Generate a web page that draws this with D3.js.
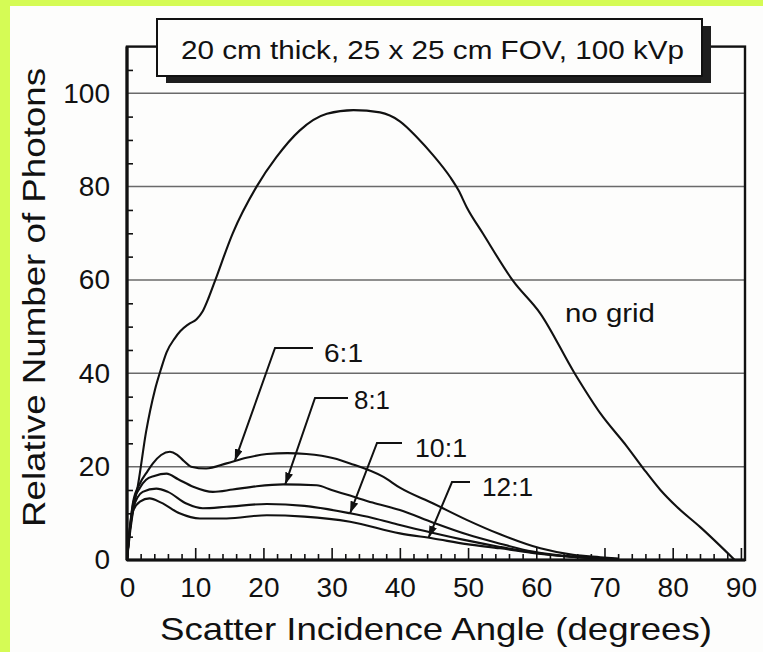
<!DOCTYPE html>
<html>
<head>
<meta charset="utf-8">
<script src="https://cdn.jsdelivr.net/npm/d3@7/dist/d3.min.js"></script>
<style>
  html, body { margin: 0; padding: 0; background: #fdfdfc; }
  svg { display: block; }
  text { font-family: "Liberation Sans", Arial, Helvetica, sans-serif; fill: #111; }
</style>
</head>
<body>
<svg id="chart" width="763" height="652"></svg>
<script>
// Scatter photon angular distributions, with and without anti-scatter grids
const titleText = "20 cm thick, 25 x 25 cm FOV, 100 kVp";
const xAxisTitle = "Scatter Incidence Angle (degrees)";
const yAxisTitle = "Relative Number of Photons";
const xTickLabels = [0, 10, 20, 30, 40, 50, 60, 70, 80, 90];
const yTickLabels = [0, 20, 40, 60, 80, 100];

const noGridAngles = [0, 0.5, 1, 1.6, 2.8, 4.1, 5, 5.8, 7, 7.8, 9, 10.2, 11.1, 12, 12.9, 15.5, 19, 21.9, 25.3, 29.3, 33.2, 37.1, 40, 42.5, 44.9, 47.4, 48.6, 49.8, 52.2, 56.6, 60.6, 65.7, 69.4, 73.3, 75.7, 78.2, 80.6, 84, 89.1];
const noGridValues = [0, 6.5, 11.5, 16, 27.5, 36.5, 41, 44.5, 47.5, 49, 50.5, 51.6, 53.3, 56.3, 59.8, 70, 80, 86.3, 92, 95.6, 96.4, 95.9, 94, 90.6, 86.7, 82, 79.2, 75.6, 69.9, 59.8, 52.8, 39.8, 31.4, 24.3, 19.6, 15, 11.4, 7.1, 0];

const grid6Angles = [0, 0.4, 0.9, 1.9, 3, 3.8, 5, 6.3, 7.3, 8.2, 9.4, 11.6, 14.6, 17.5, 20.5, 23.5, 26.3, 30.3, 32.7, 37.6, 40, 44.9, 49.8, 54.7, 60.6, 65.4, 69.4, 72];
const grid6Values = [0, 6.5, 12.5, 16.4, 19, 20.7, 22.5, 23.2, 22.6, 21.4, 20, 19.6, 20.7, 21.9, 22.7, 22.9, 22.7, 21.8, 20.7, 17.8, 15.5, 12.1, 8.6, 5.5, 2.5, 1.1, 0.6, 0.3];

const grid8Angles = [0, 0.4, 0.9, 1.9, 2.8, 4, 5.8, 7.5, 9.7, 12.6, 15.5, 19, 22.9, 27.8, 30, 32.7, 36, 40, 44.9, 49.8, 54.7, 59.5, 64, 68, 72];
const grid8Values = [0, 6.5, 12, 15.5, 17.2, 18, 18.5, 17.3, 15.7, 14.6, 15.1, 15.8, 16.2, 16, 15, 13.8, 12.3, 10.7, 8, 5.5, 3.5, 1.8, 0.9, 0.5, 0.2];

const grid10Angles = [0, 0.4, 0.9, 2.3, 4.3, 6, 8.7, 11.1, 14.6, 20.5, 26, 32.7, 36, 40, 44.9, 49.8, 54.7, 60, 65, 70, 72];
const grid10Values = [0, 6.3, 11, 14.6, 15.3, 14.6, 12.1, 11.1, 11.4, 12, 11.6, 10, 9, 7.5, 5.8, 4.2, 2.8, 1.5, 0.7, 0.3, 0.2];

const grid12Angles = [0, 0.4, 0.9, 1.9, 3.3, 5, 7.7, 10.7, 14.6, 20.5, 26, 32.7, 40, 44.9, 49.8, 54.7, 60, 65, 70, 72];
const grid12Values = [0, 6, 10.5, 12.5, 13.2, 12.3, 10, 8.9, 8.9, 9.6, 9.3, 8.2, 5.7, 4.6, 3.4, 2.5, 1.4, 0.7, 0.3, 0.2];

const seriesNames = ["no grid", "6:1", "8:1", "10:1", "12:1"];
const seriesAngles = [noGridAngles, grid6Angles, grid8Angles, grid10Angles, grid12Angles];
const seriesValues = [noGridValues, grid6Values, grid8Values, grid10Values, grid12Values];
// angle at which each grid-ratio leader arrow touches its curve
const arrowAngles = [null, 15.8, 23.2, 32.7, 44.2];

const series = seriesNames.map((name, i) => ({
  name,
  points: seriesAngles[i].map((a, j) => [a, seriesValues[i][j]]),
  arrowAt: arrowAngles[i]
}));

const svg = d3.select("#chart");
const W = 763, H = 652;

// page background with the lime margin along the top and left edges
svg.append("rect").attr("width", W).attr("height", H).attr("fill", "#d5fb55");
svg.append("rect").attr("x", 10).attr("y", 6).attr("width", W - 10).attr("height", H - 6).attr("fill", "#fdfdfc");

const x = d3.scaleLinear().domain([0, 90.6]).range([127, 745]);
const y = d3.scaleLinear().domain([0, 110]).range([560, 46.6]);
const [x0, x1] = x.range();
const [y0, y1] = y.range();

// horizontal grid lines
svg.append("g").selectAll("line")
  .data(yTickLabels.filter(v => v > 0))
  .join("line")
  .attr("x1", x0).attr("x2", x1)
  .attr("y1", d => y(d)).attr("y2", d => y(d))
  .attr("stroke", "#6a6a6a").attr("stroke-width", 1.5);

// x axis: major ticks every 10, minor every 2, drawn inward
const xMajor = svg.append("g").attr("transform", `translate(0,${y0})`)
  .call(d3.axisBottom(x).tickValues(xTickLabels).tickSize(-12).tickPadding(17).tickFormat(d3.format("d")));
const xMinor = svg.append("g").attr("transform", `translate(0,${y0})`)
  .call(d3.axisBottom(x).tickValues(d3.range(2, 90, 2).filter(v => v % 10 !== 0)).tickSize(-6).tickFormat(""));

// y axis: labels every 20, minor ticks every 5
const yMajor = svg.append("g").attr("transform", `translate(${x0},0)`)
  .call(d3.axisLeft(y).tickValues(yTickLabels).tickSize(0).tickPadding(17).tickFormat(d3.format("d")));
const yMinor = svg.append("g").attr("transform", `translate(${x0},0)`)
  .call(d3.axisLeft(y).tickValues(d3.range(5, 110, 5).filter(v => v % 20 !== 0)).tickSize(-6).tickFormat(""));

[xMajor, xMinor, yMajor, yMinor].forEach(g => {
  g.select(".domain").remove();
  g.selectAll(".tick line").attr("stroke", "#111").attr("stroke-width", 1.6);
  g.selectAll("text").attr("font-size", 28).attr("fill", "#111")
    .style("font-family", '"Liberation Sans", Arial, sans-serif');
});

// curves
const line = d3.line()
  .x(d => x(d[0])).y(d => y(d[1]))
  .curve(d3.curveMonotoneX);

svg.append("g").selectAll("path")
  .data(series)
  .join("path")
  .attr("d", d => line(d.points))
  .attr("fill", "none")
  .attr("stroke", "#111")
  .attr("stroke-width", 2.1)
  .attr("stroke-linejoin", "round");

// plot frame
svg.append("rect")
  .attr("x", x0).attr("y", y1)
  .attr("width", x1 - x0).attr("height", y0 - y1)
  .attr("fill", "none").attr("stroke", "#111").attr("stroke-width", 2.4);
svg.append("line").attr("x1", x0).attr("x2", x0).attr("y1", y1).attr("y2", y0)
  .attr("stroke", "#111").attr("stroke-width", 3.2);
svg.append("line").attr("x1", x0).attr("x2", x1).attr("y1", y0).attr("y2", y0)
  .attr("stroke", "#111").attr("stroke-width", 3);

// title box with drop shadow
const box = { x: 157, y: 19, w: 545, h: 57, dx: 9, dy: 7 };
svg.append("rect").attr("x", box.x + box.dx).attr("y", box.y + box.dy)
  .attr("width", box.w).attr("height", box.h).attr("fill", "#1e1e1e");
svg.append("rect").attr("x", box.x).attr("y", box.y)
  .attr("width", box.w).attr("height", box.h)
  .attr("fill", "#fdfdfc").attr("stroke", "#111").attr("stroke-width", 2);
svg.append("text")
  .attr("x", 181).attr("y", 58.5)
  .attr("font-size", 25.5)
  .attr("textLength", 503).attr("lengthAdjust", "spacingAndGlyphs")
  .text(titleText);

// axis titles
svg.append("text")
  .attr("x", 160).attr("y", 640)
  .attr("font-size", 31.5)
  .attr("textLength", 552).attr("lengthAdjust", "spacingAndGlyphs")
  .text(xAxisTitle);
svg.append("text")
  .attr("transform", "translate(45,527) rotate(-90)")
  .attr("font-size", 31.5)
  .attr("textLength", 459).attr("lengthAdjust", "spacingAndGlyphs")
  .text(yAxisTitle);

// series labels
svg.append("text")
  .attr("x", 565).attr("y", 322)
  .attr("font-size", 25.5)
  .attr("textLength", 90).attr("lengthAdjust", "spacingAndGlyphs")
  .text(series[0].name);

svg.append("defs").append("marker")
  .attr("id", "head")
  .attr("viewBox", "0 0 12 8")
  .attr("refX", 12).attr("refY", 4)
  .attr("markerWidth", 12).attr("markerHeight", 8)
  .attr("markerUnits", "userSpaceOnUse")
  .attr("orient", "auto")
  .append("path").attr("d", "M0,0 L12,4 L0,8 Z").attr("fill", "#111");

// leader layout for each grid-ratio label: elbow point, end of shelf, text anchor
const leaderLayout = {
  "6:1":  { ex: 275, ey: 348, sx: 313, tx: 324, ty: 362, tl: 39 },
  "8:1":  { ex: 315, ey: 398, sx: 348, tx: 354, ty: 409, tl: 36 },
  "10:1": { ex: 377, ey: 443, sx: 402, tx: 415, ty: 457, tl: 52 },
  "12:1": { ex: 452, ey: 482, sx: 470, tx: 482, ty: 496, tl: 51 }
};

function valueAt(points, a) {
  const i = d3.bisector(d => d[0]).left(points, a);
  const p0 = points[Math.max(0, i - 1)], p1 = points[Math.min(points.length - 1, i)];
  if (p1[0] === p0[0]) return p0[1];
  return p0[1] + (p1[1] - p0[1]) * (a - p0[0]) / (p1[0] - p0[0]);
}

const ann = svg.append("g");
series.slice(1).forEach(s => {
  const L = leaderLayout[s.name];
  const tipX = x(s.arrowAt), tipY = y(valueAt(s.points, s.arrowAt));
  ann.append("path")
    .attr("d", `M${L.sx},${L.ey} L${L.ex},${L.ey} L${tipX},${tipY}`)
    .attr("fill", "none").attr("stroke", "#111").attr("stroke-width", 2)
    .attr("marker-end", "url(#head)");
  ann.append("text")
    .attr("x", L.tx).attr("y", L.ty)
    .attr("font-size", 25.5)
    .attr("textLength", L.tl).attr("lengthAdjust", "spacingAndGlyphs")
    .text(s.name);
});
</script>
</body>
</html>
